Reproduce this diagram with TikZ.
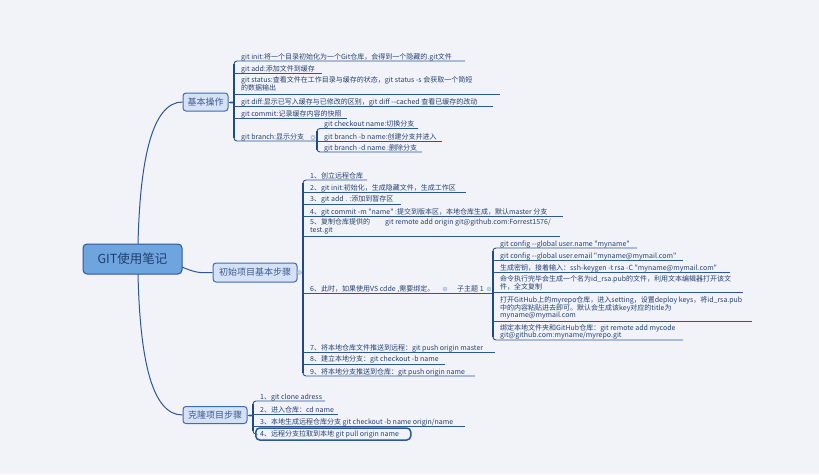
\documentclass[tikz,border=0pt]{standalone}
\usepackage{fontspec}
\newfontfamily\mmfont{Noto Sans CJK SC}
\definecolor{bg}{HTML}{F2F3F9}
\definecolor{lnc}{HTML}{2B5797}
\definecolor{brc}{HTML}{1F4A86}
\definecolor{txt}{HTML}{25416F}
\definecolor{rootfill}{HTML}{6EA5DF}
\definecolor{rootline}{HTML}{2B5797}
\definecolor{roottxt}{HTML}{1F3E6E}
\definecolor{brfill}{HTML}{D5E1F6}
\definecolor{brline}{HTML}{3C6CB4}
\definecolor{brtxt}{HTML}{3A5A8C}
\definecolor{icon}{HTML}{A9BEE0}
\tikzset{
  leaf/.style={font=\mmfont\fontsize{7}{7.7}\selectfont, text=txt, inner sep=0pt, align=left, anchor=base west},
  uline/.style={draw=lnc, line width=0.9pt},
  bracketpath/.style={draw=lnc, line width=0.9pt, rounded corners=3pt},
  bracketbar/.style={draw=brc, line width=1.5pt},
  rootbox/.style={draw=rootline, fill=rootfill, line width=1pt, rounded corners=4pt, inner sep=0pt,
    font=\mmfont\fontsize{12.5}{14}\selectfont, text=roottxt},
  branchbox/.style={draw=brline, fill=brfill, line width=1pt, rounded corners=3pt, inner sep=0pt,
    font=\mmfont\fontsize{9}{11}\selectfont, text=brtxt},
  curve/.style={draw=lnc, line width=1pt},
  selbox/.style={draw=lnc, line width=1.5pt, rounded corners=4pt},
  iconc/.style={fill=icon!70, draw=icon, line width=0.5pt},
  iconl/.style={draw=icon, line width=0.8pt}
}
\begin{document}
\begin{tikzpicture}[x=1pt,y=-1pt]
\useasboundingbox (0,0) rectangle (819,474);
\fill[bg] (0,0) rectangle (819,474);

% root and branches
\node[rootbox, minimum width=99pt, minimum height=30pt] (root) at (132.5,259) {GIT使用笔记};
\node[branchbox, minimum width=45pt, minimum height=18pt] (basic) at (205.5,102) {基本操作};
\node[branchbox, minimum width=84pt, minimum height=19pt] (init) at (255,272.5) {初始项目基本步骤};
\node[branchbox, minimum width=64pt, minimum height=17pt] (clone) at (215,415) {克隆项目步骤};

\coordinate (rtop) at (138,244);
\coordinate (rbot) at (138,274);
\draw[curve] (rtop) .. controls (140,160) and (152,102) .. (basic.west);
\draw[curve] (rbot) .. controls (140,360) and (152,415) .. (clone.west);
\draw[curve] (182,267) .. controls (196,273) and (200,273) .. (init.west);

% ---------- basic operations ----------
\coordinate (bA) at (234,102);
\draw[uline] (basic.east) -- (bA);
\draw[iconl] (229.5,101) -- (232.5,101) (229.5,103.5) -- (232.5,103.5);
\node[leaf] (b1) at (241,59) {git init:将一个目录初始化为一个Git仓库，会得到一个隐藏的.git文件};
\node[leaf] (b2) at (241,71.5) {git add:添加文件到缓存};
\node[leaf] (b3) at (241,90.5) {git status:查看文件在工作目录与缓存的状态，git status -s 会获取一个简短\\的数据输出};
\node[leaf] (b4) at (241,104) {git diff:显示已写入缓存与已修改的区别，git diff --cached 查看已缓存的改动};
\node[leaf] (b5) at (241,116) {git commit:记录缓存内容的快照};
\node[leaf] (b6) at (241,139) {git branch:显示分支};
\draw[bracketpath] (465,61) -- (234,61) -- (234,141) -- (317,141);
\draw[bracketbar] (234,64) -- (234,138);
\draw[uline] (234,73.5) -- (322,73.5);
\draw[uline] (234,94.5) -- (500,94.5);
\draw[uline] (234,106) -- (493,106);
\draw[uline] (234,118) -- (347,118);
% sub of git branch
\draw[iconc] (313,137.5) circle (2.2pt);
\draw[draw=white, line width=0.5pt] (311.8,137.5) -- (314.2,137.5);
\node[leaf] (b61) at (324,126.5) {git checkout name:切换分支};
\node[leaf] (b62) at (324,139.5) {git branch -b name:创建分支并进入};
\node[leaf] (b63) at (324,150) {git branch -d name :删除分支};
\draw[bracketpath] (418,128.5) -- (317,128.5) -- (317,152) -- (422,152);
\draw[bracketbar] (317,131) -- (317,149.5);
\draw[uline] (317,141.5) -- (442,141.5);

% ---------- initial project steps ----------
\coordinate (iA) at (303,272.5);
\draw[uline] (init.east) -- (iA);
\draw[iconc] (299.5,272.5) circle (2pt);
\node[leaf] (i1) at (310,178) {1、创立远程仓库};
\node[leaf] (i2) at (310,190) {2、git init:初始化，生成隐藏文件，生成工作区};
\node[leaf] (i3) at (310,201.5) {3、git add . :添加到暂存区};
\node[leaf] (i4) at (310,214) {4、git commit -m "name" :提交到版本区，本地仓库生成，默认master 分支};
\node[leaf] (i5) at (310,232.5) {\makebox[75pt][l]{5、复制仓库提供的}git remote add origin git@github.com:Forrest1576/\\test.git};
\node[leaf] (i6) at (310,291) {6、此时，如果使用VS cdde ,需要绑定。};
\draw[iconc] (445,289) circle (2pt);
\node[leaf] (i6s) at (457,291) {子主题 1};
\draw[iconc] (489,289) circle (2pt);
\node[leaf] (i7) at (310,350) {7、将本地仓库文件推送到远程：git push origin master};
\node[leaf] (i8) at (310,361.5) {8、建立本地分支：git checkout -b name};
\node[leaf] (i9) at (310,374) {9、将本地分支推送到仓库：git push origin name};
\draw[bracketpath] (367,180) -- (303,180) -- (303,376) -- (475,376);
\draw[bracketbar] (303,183) -- (303,373);
\draw[uline] (303,192) -- (466,192);
\draw[uline] (303,204) -- (401,204);
\draw[uline] (303,216) -- (563,216);
\draw[uline] (303,236) -- (560,236);
\draw[uline] (303,293) -- (493,293);
\draw[uline] (303,352) -- (495,352);
\draw[uline] (303,364) -- (445,364);
% sub of item 6
\node[leaf] (s1) at (500,246) {git config --global user.name "myname"};
\node[leaf] (s2) at (500,258) {git config --global user.email "myname@mymail.com"};
\node[leaf] (s3) at (500,270) {生成密钥，接着输入：ssh-keygen -t rsa -C "myname@mymail.com"};
\node[leaf] (s4) at (500,289.2) {命令执行完毕会生成一个名为id\_rsa.pub的文件，利用文本编辑器打开该文\\件，全文复制};
\node[leaf] (s5) at (500,317.9) {打开GitHub上的myrepo仓库，进入setting，设置deploy keys，将id\_rsa.pub\\中的内容粘贴进去即可。默认会生成该key对应的title为\\myname@mymail.com};
\node[leaf] (s6) at (500,337.7) {绑定本地文件夹和GitHub仓库：git remote add mycode\\git@github.com:myname/myrepo.git};
\draw[bracketpath] (637,248) -- (493,248) -- (493,340) -- (683,340);
\draw[bracketbar] (493,251) -- (493,337);
\draw[uline] (493,260) -- (683,260);
\draw[uline] (493,272) -- (730,272);
\draw[uline] (493,292) -- (743,292);
\draw[uline] (493,321) -- (752,321);

% ---------- clone steps ----------
\coordinate (cA) at (253,415);
\draw[uline] (clone.east) -- (cA);
\draw[iconl] (248.5,414) -- (251.5,414) (248.5,416.5) -- (251.5,416.5);
\node[leaf] (c1) at (260,399.5) {1、git clone adress};
\node[leaf] (c2) at (260,412.5) {2、进入仓库：cd name};
\node[leaf] (c3) at (260,424) {3、本地生成远程仓库分支 git checkout -b name origin/name};
\node[leaf] (c4) at (260,436) {4、远程分支拉取到本地 git pull origin name};
\node[selbox, minimum width=155pt, minimum height=12pt, inner sep=0pt, anchor=west] (c4box) at (255,434) {};
\draw[bracketpath] (325,401) -- (253,401) -- (253,434) -- (c4box.west);
\draw[bracketbar] (253,404) -- (253,431);
\draw[uline] (253,414.5) -- (338,414.5);
\draw[uline] (253,426) -- (465,426);
\end{tikzpicture}
\end{document}
